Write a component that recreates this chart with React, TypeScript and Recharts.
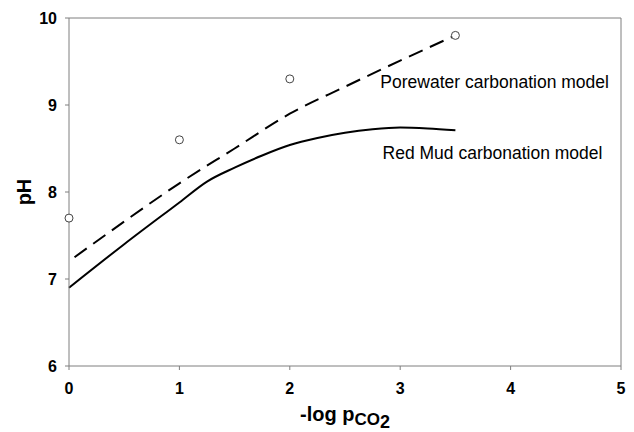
import {
    ComposedChart,
    Line,
    Scatter,
    XAxis,
    YAxis,
    ReferenceLine,
    ReferenceDot
} from "recharts";

// -log pCO2 vs pH
const porewaterX = [0.05, 0.5, 1.0, 1.5, 2.0, 2.5, 3.0, 3.5];
const porewaterPH = [7.25, 7.66, 8.1, 8.5, 8.9, 9.21, 9.51, 9.8];

const redMudX = [0, 0.5, 1.0, 1.25, 1.5, 1.75, 2.0, 2.25, 2.5, 2.75, 3.0, 3.25, 3.5];
const redMudPH = [6.9, 7.4, 7.88, 8.12, 8.28, 8.42, 8.54, 8.62, 8.68, 8.72, 8.74, 8.73, 8.71];

const measuredX = [0, 1, 2, 3.5];
const measuredPH = [7.7, 8.6, 9.3, 9.8];

const xTicks = [0, 1, 2, 3, 4, 5];
const yTicks = [6, 7, 8, 9, 10];

const labels = [
    { x: 2.82, y: 9.2, text: "Porewater carbonation model" },
    { x: 2.84, y: 8.38, text: "Red Mud carbonation model" }
];

const porewater = porewaterX.map((x, i) => ({ x, ph: porewaterPH[i] }));
const redMud = redMudX.map((x, i) => ({ x, ph: redMudPH[i] }));
const measured = measuredX.map((x, i) => ({ x, ph: measuredPH[i] }));

const FONT = "'Liberation Sans', Arial, sans-serif";
const AXIS = "#7f7f7f";

const tickStyle = { fill: "#000", fontSize: 16, fontWeight: 700, fontFamily: FONT };

const XTitle = (props: any) => {
    const vb = props.viewBox;
    const cx = vb.x + vb.width / 2;
    return (
        <text x={cx} y={421} textAnchor="middle" fontFamily={FONT} fontWeight={700} fill="#000">
            <tspan fontSize={20}>-log p</tspan>
            <tspan fontSize={17} dy={3.5}>CO</tspan>
            <tspan fontSize={18} dy={3}>2</tspan>
        </text>
    );
};

const YTitle = (props: any) => {
    const vb = props.viewBox;
    const cy = vb.y + vb.height / 2;
    return (
        <text
            x={31}
            y={cy}
            transform={`rotate(-90 31 ${cy})`}
            textAnchor="middle"
            fontFamily={FONT}
            fontWeight={700}
            fontSize={20}
            fill="#000"
        >
            pH
        </text>
    );
};

export default function App() {
    return (
        <div style={{ position: "absolute", left: 0, top: 0, background: "#fff" }}>
            <ComposedChart width={634} height={432} margin={{ top: 18, right: 13, bottom: 0, left: 0 }}>
                <XAxis
                    type="number"
                    dataKey="x"
                    domain={[0, 5]}
                    ticks={xTicks}
                    height={66}
                    stroke={AXIS}
                    tickSize={4}
                    tickMargin={13}
                    tick={tickStyle}
                    label={<XTitle />}
                    allowDuplicatedCategory={false}
                />
                <YAxis
                    type="number"
                    dataKey="ph"
                    domain={[6, 10]}
                    ticks={yTicks}
                    width={69}
                    stroke={AXIS}
                    tickSize={4}
                    tickMargin={8}
                    tick={tickStyle}
                    label={<YTitle />}
                />
                <ReferenceLine y={10} stroke={AXIS} strokeWidth={1} />
                <ReferenceLine x={5} stroke={AXIS} strokeWidth={1} />
                <Line
                    data={redMud}
                    dataKey="ph"
                    type="monotone"
                    stroke="#000"
                    strokeWidth={2}
                    dot={false}
                    isAnimationActive={false}
                />
                <Line
                    data={porewater}
                    dataKey="ph"
                    type="monotone"
                    stroke="#000"
                    strokeWidth={2}
                    strokeDasharray="15 8"
                    dot={false}
                    isAnimationActive={false}
                />
                <Scatter
                    data={measured}
                    dataKey="ph"
                    isAnimationActive={false}
                    shape={(p: any) => (
                        <circle cx={p.cx} cy={p.cy} r={4} fill="#fff" stroke="#444" strokeWidth={1} />
                    )}
                />
                {labels.map((l) => (
                    <ReferenceDot
                        key={l.text}
                        x={l.x}
                        y={l.y}
                        shape={(p: any) => (
                            <text x={p.cx} y={p.cy} fontFamily={FONT} fontSize={17.5} fill="#000">
                                {l.text}
                            </text>
                        )}
                    />
                ))}
            </ComposedChart>
        </div>
    );
}
